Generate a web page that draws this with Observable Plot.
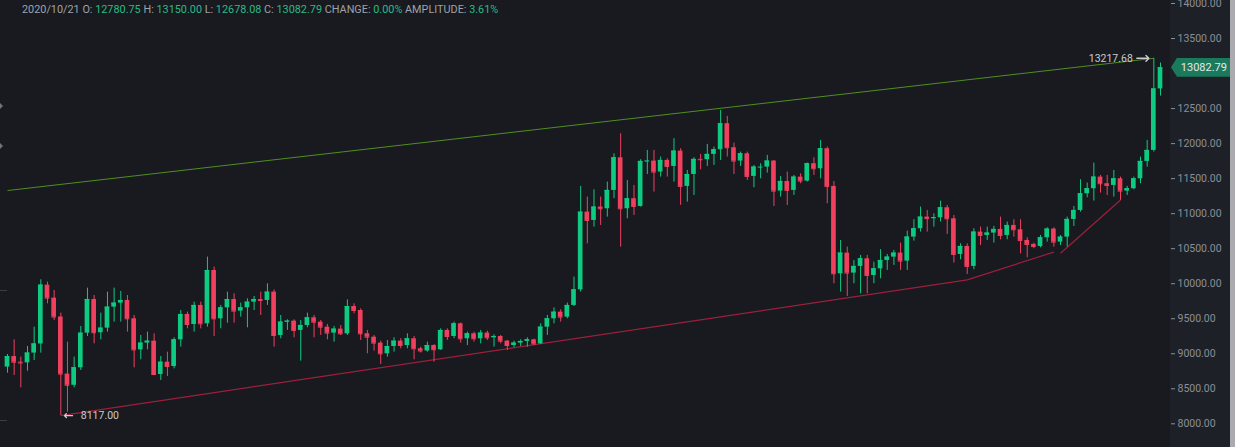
<!DOCTYPE html>
<html><head><meta charset="utf-8">
<script src="https://cdn.jsdelivr.net/npm/d3@7"></script>
<script src="https://cdn.jsdelivr.net/npm/@observablehq/plot@0.6"></script>
<style>
html,body{margin:0;padding:0;background:#181a20;overflow:hidden}
#wrap{position:relative;width:1235px;height:447px;background:#181a20;font-family:Roboto,"Liberation Sans",sans-serif}
#panel{position:absolute;left:1170px;top:0;width:60px;height:447px;background:#1e2027}
#scroll{position:absolute;left:1230px;top:0;width:5px;height:447px;background:#a9abae}
#header{position:absolute;left:22px;top:3px;font-size:10.85px;color:#9ea2a9;white-space:nowrap;z-index:3}
#header .v{color:#2bb984}
#tag{position:absolute;left:1171px;width:59px;height:19px;background:#1c7a5c;clip-path:polygon(0 50%,6px 0,100% 0,100% 100%,6px 100%);color:#e6e8ea;font-size:11px;line-height:19px;text-align:right;padding-right:3px;box-sizing:border-box;z-index:3}
#chart{position:absolute;left:0;top:0;z-index:2}
.lm{position:absolute;left:0;z-index:1}
.tri{width:0;height:0;border-top:3px solid transparent;border-bottom:3px solid transparent;border-left:3px solid #70737a}
.dash{width:7px;height:1px;background:#3b3e45}
</style></head>
<body><div id="wrap"><div id="panel"></div><div id="scroll"></div>
<div class="lm tri" style="top:103px"></div><div class="lm tri" style="top:143px"></div>
<div class="lm dash" style="top:290px"></div><div class="lm dash" style="top:420px"></div>
<div id="header"></div><div id="chart"></div><div id="tag"></div></div>
<script>
const startDate = "2020/05/02";
const opens = [8810,8960,8880,8870,9010,9140,9980,9794,9525,8710,
8550,8800,9294,9775,9300,9366,9666,9723,9761,9499,
9056,9152,9180,8704,8880,8818,9199,9561,9418,9690,
9428,10189,9499,9656,9775,9609,9656,9737,9775,9761,
9880,9261,9452,9466,9333,9404,9513,9451,9380,9295,
9352,9285,9675,9618,9285,9237,9152,9000,9104,9180,
9118,9214,9071,9040,9118,9057,9333,9247,9428,9214,
9285,9214,9295,9228,9247,9180,9118,9152,9176,9199,
9142,9380,9499,9594,9523,9690,9913,11022,10903,11094,
11070,11332,11798,11070,11213,11103,11746,11751,11594,11760,
11674,11893,11389,11560,11775,11770,11846,11913,12284,11941,
11751,11855,11532,11665,11665,11751,11322,11460,11332,11522,
11465,11713,11641,11927,11389,10142,10437,10152,10247,10356,
10118,10213,10332,10380,10437,10323,10666,10785,10951,10930,
10942,11084,10927,10418,10532,10247,10737,10689,10723,10775,
10689,10832,10770,10618,10561,10532,10656,10780,10594,10665,
10918,11046,11284,11356,11522,11427,11403,11498,11322,11356,
11498,11746,11903,12780.75];
const highs = [8990,9199,8952,9104,9380,10056,10023,9904,9580,9166,
8952,9390,9937,9832,9580,9880,9937,9890,9832,9547,
9261,9309,9285,8961,9023,9228,9618,9594,9737,9737,
10380,10237,9690,9880,9856,9723,9785,9818,9880,9999,
9913,9547,9485,9485,9475,9580,9547,9475,9418,9390,
9404,9770,9713,9642,9333,9261,9180,9190,9228,9214,
9285,9247,9095,9166,9130,9356,9356,9452,9440,9309,
9309,9333,9323,9271,9261,9190,9180,9199,9228,9209,
9428,9547,9656,9628,9723,10094,11389,11237,11341,11237,
11451,11855,12141,11475,11403,11770,11903,11903,11808,11784,
12070,11927,11617,11798,11846,11989,11951,12474,12389,12008,
11879,11879,11689,11713,11832,11760,11532,11594,11546,11570,
11722,11798,12046,11951,11460,10618,10523,10332,10404,10404,
10308,10485,10418,10475,10580,10751,10913,11094,11046,10999,
11180,11118,10975,10570,10570,10785,10808,10808,10818,10951,
10880,10913,10913,10656,10580,10689,10799,10799,10689,10951,
11103,11484,11437,11722,11546,11546,11617,11522,11389,11522,
11808,12046,13217.68,13150];
const lows = [8723,8690,8514,8752,8904,9009,9713,9475,8117,8166,
8514,8761,9247,9142,9199,9309,9452,9452,9309,8799,
8914,9056,8690,8619,8676,8785,9095,9356,9309,9356,
9380,9247,9356,9437,9437,9523,9371,9618,9547,9690,
9095,9214,9333,9228,8895,9371,9228,9261,9199,9166,
9261,9261,9570,9190,9000,9038,8847,8952,9023,9071,
9071,8914,9010,9023,8880,9047,9190,9214,9152,9118,
9166,9142,9190,9095,9142,9047,9085,9104,9095,9118,
9133,9261,9428,9452,9499,9675,9880,10570,10808,10832,
10951,11213,10522,10927,10975,11094,11560,11308,11522,11522,
11451,11118,11165,11260,11627,11674,11689,11760,11808,11560,
11674,11475,11370,11498,11579,11103,11237,11118,11260,11427,
11451,11546,11498,11142,10000,9880,9818,10000,9856,9856,
10000,10071,10190,10261,10190,10190,10608,10737,10737,10808,
10880,10704,10294,10342,10132,10199,10546,10618,10580,10627,
10627,10665,10427,10370,10499,10513,10594,10523,10546,10523,
10818,11022,11227,11180,11294,11260,11237,11189,11260,11341,
11427,11665,11879,12678.08];
const closes = [8960,8880,8870,9010,9140,9980,9794,9525,8710,8550,
8800,9294,9775,9300,9366,9666,9723,9761,9499,9056,
9152,9180,8704,8880,8818,9199,9561,9418,9690,9428,
10189,9499,9656,9775,9609,9656,9737,9775,9761,9880,
9261,9452,9466,9333,9404,9513,9451,9380,9295,9352,
9285,9675,9618,9285,9237,9152,9000,9104,9180,9118,
9214,9071,9040,9118,9057,9333,9247,9428,9214,9285,
9214,9295,9228,9247,9180,9118,9152,9176,9199,9142,
9380,9499,9594,9523,9690,9913,11022,10903,11094,11070,
11332,11798,11070,11213,11103,11746,11751,11594,11760,11674,
11893,11389,11560,11775,11770,11846,11913,12284,11941,11751,
11855,11532,11665,11665,11751,11322,11460,11332,11522,11465,
11713,11641,11927,11389,10142,10437,10152,10247,10356,10118,
10213,10332,10380,10437,10323,10666,10785,10951,10930,10942,
11084,10927,10418,10532,10247,10737,10689,10723,10775,10689,
10832,10770,10618,10561,10532,10656,10780,10594,10665,10918,
11046,11284,11356,11522,11427,11403,11498,11322,11356,11498,
11746,11903,12780.75,13082.79];
// 13000.00 sits behind the last-price tag in the reference
const yTicks = [8000,8500,9000,9500,10000,10500,11000,11500,12000,12500,13500,14000];
// trend lines: [startIndex, startPrice, endIndex, endPrice]
const upperLine = [[0, 11330, 172, 13217.68]];
const lowerLines = [[8, 8117, 144, 10055],[144, 10055, 157, 10452],[158, 10436, 167, 11196]];
const lowMark = {i: 8, v: 8117.00, label: "8117.00"};
const highMark = {i: 172, v: 13217.68, label: "13217.68"};
const header = {date: "2020/10/21", O: "12780.75", H: "13150.00", L: "12678.08", C: "13082.79", change: "0.00%", amplitude: "3.61%"};

const up = "#0ecb81", down = "#f0405e";
const candles = closes.map((c, i) => ({i, o: opens[i], h: highs[i], l: lows[i], c, color: c >= opens[i] ? up : down}));
const hw = 0.35;

const chart = Plot.plot({
  width: 1235, height: 447,
  marginLeft: 0, marginRight: 65, marginTop: 0, marginBottom: 0,
  style: {background: "transparent", color: "#8b8f97", fontFamily: "Roboto, sans-serif", fontSize: "10.5px"},
  x: {domain: [-1.05, 174.5], axis: null},
  y: {domain: [7662, 14043], axis: "right", ticks: yTicks, tickFormat: d3.format(".2f"), tickSize: 4, tickPadding: 3, label: null},
  marks: [
    Plot.link(upperLine, {x1: d => d[0], y1: d => d[1], x2: d => d[2], y2: d => d[3], stroke: "#4f8f1f", strokeWidth: 1}),
    Plot.link(lowerLines, {x1: d => d[0], y1: d => d[1], x2: d => d[2], y2: d => d[3], stroke: "#9e1f3a", strokeWidth: 1.2}),
    Plot.ruleX(candles, {x: "i", y1: "l", y2: "h", stroke: "color", strokeWidth: 1}),
    Plot.rect(candles, {x1: d => d.i - hw, x2: d => d.i + hw, y1: "o", y2: "c", fill: "color"}),
    Plot.ruleY(candles, {y: "c", x1: d => d.i - hw, x2: d => d.i + hw, stroke: "color", strokeWidth: 1}),
    Plot.arrow([lowMark], {x1: d => d.i + 1.75, x2: d => d.i + 0.55, y1: "v", y2: "v", stroke: "#c9cbce", strokeWidth: 1.4, headLength: 7, headAngle: 90}),
    Plot.text([lowMark], {x: "i", y: "v", text: "label", dx: 20, textAnchor: "start", fill: "#c9cbce", fontSize: 10.5}),
    Plot.arrow([highMark], {x1: d => d.i - 2.55, x2: d => d.i - 0.75, y1: "v", y2: "v", stroke: "#c9cbce", strokeWidth: 1.4, headLength: 7, headAngle: 90}),
    Plot.text([highMark], {x: "i", y: "v", text: "label", dx: -21, textAnchor: "end", fill: "#c9cbce", fontSize: 10.5})
  ]
});
document.getElementById("chart").appendChild(chart);

const h = header;
document.getElementById("header").innerHTML =
  `${h.date} O: <span class="v">${h.O}</span> H: <span class="v">${h.H}</span> L: <span class="v">${h.L}</span> C: <span class="v">${h.C}</span> CHANGE: <span class="v">${h.change}</span> AMPLITUDE: <span class="v">${h.amplitude}</span>`;

const last = closes[closes.length - 1];
const tag = document.getElementById("tag");
tag.textContent = d3.format(".2f")(last);
tag.style.top = (chart.scale("y").apply(last) - 9.5) + "px";
</script></body></html>
